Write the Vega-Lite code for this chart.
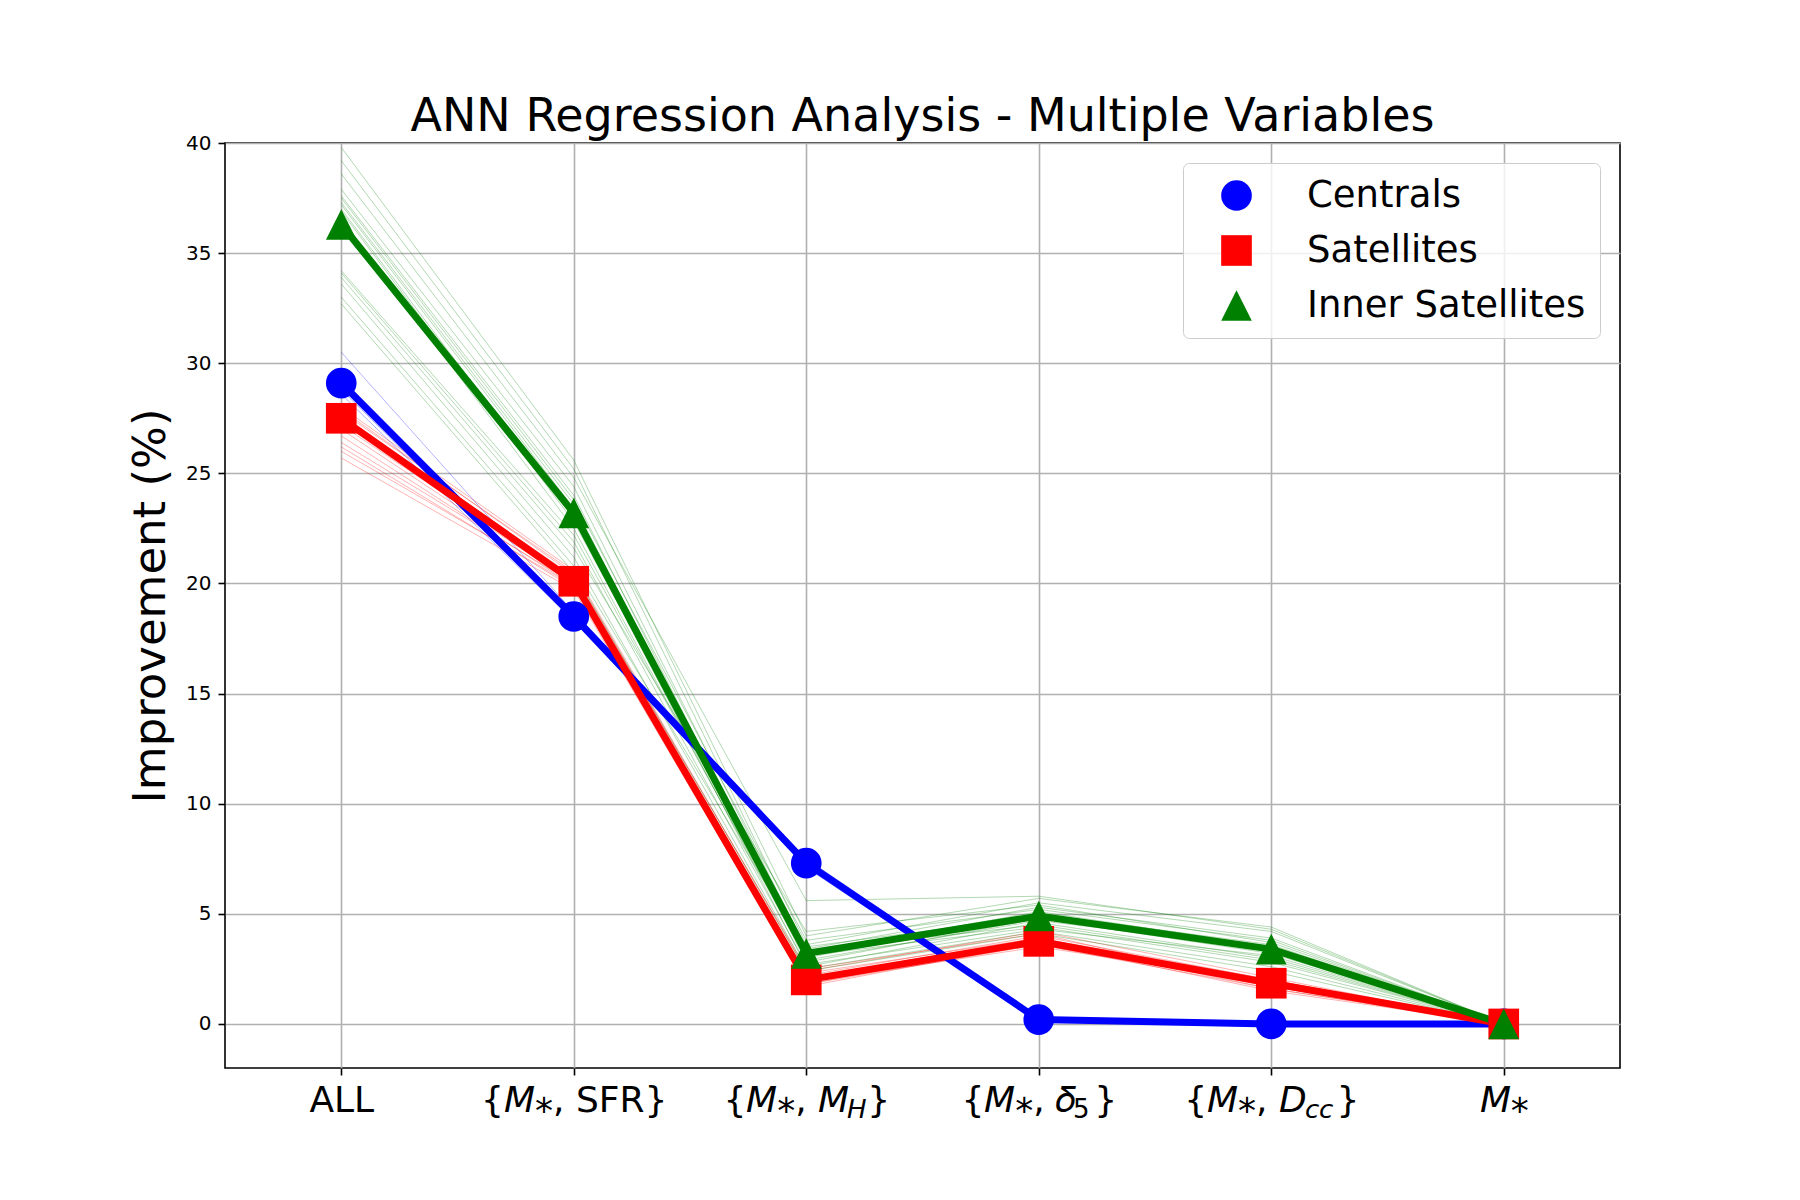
{
  "$schema": "https://vega.github.io/schema/vega-lite/v6.json",
  "autosize": {"type": "none"},
  "padding": {"left": 225, "top": 143, "right": 180, "bottom": 132},
  "width": 1395,
  "height": 925,
  "background": "white",
  "title": {
    "text": "ANN Regression Analysis - Multiple Variables",
    "font": "DejaVu Sans",
    "fontSize": 46,
    "fontWeight": "normal",
    "color": "black",
    "anchor": "middle",
    "frame": "group",
    "baseline": "alphabetic",
    "offset": -44
  },
  "datasets": {
    "runs": [
      {"group": "Centrals", "run": "c1", "ALL": 30.5, "M_SFR": 18.7, "M_MH": 7.5, "M_d5": 0.3, "M_Dcc": 0.05, "M": 0},
      {"group": "Centrals", "run": "c2", "ALL": 29.3, "M_SFR": 18.6, "M_MH": 7.4, "M_d5": 0.25, "M_Dcc": 0.0, "M": 0},
      {"group": "Centrals", "run": "c3", "ALL": 29.0, "M_SFR": 18.5, "M_MH": 7.3, "M_d5": 0.2, "M_Dcc": 0.0, "M": 0},
      {"group": "Centrals", "run": "c4", "ALL": 28.8, "M_SFR": 18.4, "M_MH": 7.2, "M_d5": 0.15, "M_Dcc": 0.0, "M": 0},
      {"group": "Centrals", "run": "c5", "ALL": 28.6, "M_SFR": 18.3, "M_MH": 7.1, "M_d5": 0.1, "M_Dcc": 0.0, "M": 0},
      {"group": "Centrals", "run": "c6", "ALL": 29.1, "M_SFR": 18.5, "M_MH": 7.3, "M_d5": 0.2, "M_Dcc": 0.0, "M": 0},
      {"group": "Satellites", "run": "s1", "ALL": 28.0, "M_SFR": 20.6, "M_MH": 2.4, "M_d5": 4.2, "M_Dcc": 2.1, "M": 0},
      {"group": "Satellites", "run": "s2", "ALL": 27.8, "M_SFR": 20.5, "M_MH": 2.2, "M_d5": 4.0, "M_Dcc": 2.0, "M": 0},
      {"group": "Satellites", "run": "s3", "ALL": 27.6, "M_SFR": 20.3, "M_MH": 2.1, "M_d5": 3.9, "M_Dcc": 1.9, "M": 0},
      {"group": "Satellites", "run": "s4", "ALL": 27.4, "M_SFR": 20.2, "M_MH": 2.0, "M_d5": 3.8, "M_Dcc": 1.8, "M": 0},
      {"group": "Satellites", "run": "s5", "ALL": 27.2, "M_SFR": 20.1, "M_MH": 1.9, "M_d5": 3.7, "M_Dcc": 1.7, "M": 0},
      {"group": "Satellites", "run": "s6", "ALL": 27.0, "M_SFR": 20.0, "M_MH": 1.8, "M_d5": 3.6, "M_Dcc": 1.6, "M": 0},
      {"group": "Satellites", "run": "s7", "ALL": 26.7, "M_SFR": 19.9, "M_MH": 1.7, "M_d5": 3.7, "M_Dcc": 1.5, "M": 0},
      {"group": "Satellites", "run": "s8", "ALL": 26.4, "M_SFR": 20.0, "M_MH": 2.3, "M_d5": 3.9, "M_Dcc": 2.0, "M": 0},
      {"group": "Satellites", "run": "s9", "ALL": 26.2, "M_SFR": 19.8, "M_MH": 2.0, "M_d5": 3.6, "M_Dcc": 1.8, "M": 0},
      {"group": "Satellites", "run": "s10", "ALL": 26.0, "M_SFR": 19.9, "M_MH": 1.9, "M_d5": 3.5, "M_Dcc": 1.9, "M": 0},
      {"group": "Satellites", "run": "s11", "ALL": 25.7, "M_SFR": 19.7, "M_MH": 1.8, "M_d5": 3.8, "M_Dcc": 1.6, "M": 0},
      {"group": "Satellites", "run": "s12", "ALL": 27.9, "M_SFR": 20.4, "M_MH": 2.5, "M_d5": 4.1, "M_Dcc": 1.7, "M": 0},
      {"group": "Inner Satellites", "run": "i1", "ALL": 39.8, "M_SFR": 25.6, "M_MH": 4.0, "M_d5": 5.7, "M_Dcc": 4.4, "M": 0},
      {"group": "Inner Satellites", "run": "i2", "ALL": 39.2, "M_SFR": 25.2, "M_MH": 3.6, "M_d5": 5.5, "M_Dcc": 4.2, "M": 0},
      {"group": "Inner Satellites", "run": "i3", "ALL": 38.6, "M_SFR": 24.8, "M_MH": 5.6, "M_d5": 5.8, "M_Dcc": 4.3, "M": 0},
      {"group": "Inner Satellites", "run": "i4", "ALL": 37.9, "M_SFR": 24.4, "M_MH": 3.4, "M_d5": 5.3, "M_Dcc": 3.9, "M": 0},
      {"group": "Inner Satellites", "run": "i5", "ALL": 37.6, "M_SFR": 24.0, "M_MH": 3.0, "M_d5": 5.0, "M_Dcc": 3.6, "M": 0},
      {"group": "Inner Satellites", "run": "i6", "ALL": 37.5, "M_SFR": 23.8, "M_MH": 3.8, "M_d5": 5.2, "M_Dcc": 3.8, "M": 0},
      {"group": "Inner Satellites", "run": "i7", "ALL": 37.3, "M_SFR": 23.6, "M_MH": 2.8, "M_d5": 4.8, "M_Dcc": 3.2, "M": 0},
      {"group": "Inner Satellites", "run": "i8", "ALL": 37.2, "M_SFR": 23.4, "M_MH": 3.2, "M_d5": 5.1, "M_Dcc": 3.5, "M": 0},
      {"group": "Inner Satellites", "run": "i9", "ALL": 37.0, "M_SFR": 23.0, "M_MH": 2.6, "M_d5": 4.6, "M_Dcc": 3.0, "M": 0},
      {"group": "Inner Satellites", "run": "i10", "ALL": 36.9, "M_SFR": 22.8, "M_MH": 3.5, "M_d5": 4.9, "M_Dcc": 3.3, "M": 0},
      {"group": "Inner Satellites", "run": "i11", "ALL": 36.5, "M_SFR": 22.5, "M_MH": 2.9, "M_d5": 4.7, "M_Dcc": 3.4, "M": 0},
      {"group": "Inner Satellites", "run": "i12", "ALL": 34.2, "M_SFR": 22.2, "M_MH": 3.1, "M_d5": 4.4, "M_Dcc": 2.8, "M": 0},
      {"group": "Inner Satellites", "run": "i13", "ALL": 34.1, "M_SFR": 21.9, "M_MH": 2.7, "M_d5": 4.3, "M_Dcc": 3.1, "M": 0},
      {"group": "Inner Satellites", "run": "i14", "ALL": 33.9, "M_SFR": 21.6, "M_MH": 4.2, "M_d5": 5.4, "M_Dcc": 3.7, "M": 0},
      {"group": "Inner Satellites", "run": "i15", "ALL": 33.6, "M_SFR": 21.2, "M_MH": 2.5, "M_d5": 4.2, "M_Dcc": 2.6, "M": 0},
      {"group": "Inner Satellites", "run": "i16", "ALL": 33.0, "M_SFR": 20.8, "M_MH": 3.3, "M_d5": 4.5, "M_Dcc": 2.9, "M": 0},
      {"group": "Inner Satellites", "run": "i17", "ALL": 32.7, "M_SFR": 20.5, "M_MH": 2.4, "M_d5": 4.1, "M_Dcc": 2.4, "M": 0}
    ],
    "mean": [
      {"group": "Centrals", "ALL": 29.1, "M_SFR": 18.5, "M_MH": 7.3, "M_d5": 0.2, "M_Dcc": 0.0, "M": 0},
      {"group": "Satellites", "ALL": 27.5, "M_SFR": 20.1, "M_MH": 2.0, "M_d5": 3.75, "M_Dcc": 1.85, "M": 0},
      {"group": "Inner Satellites", "ALL": 36.3, "M_SFR": 23.2, "M_MH": 3.2, "M_d5": 4.9, "M_Dcc": 3.4, "M": 0}
    ]
  },
  "encoding": {
    "y": {
      "field": "value",
      "type": "quantitative",
      "scale": {"domain": [-2, 40], "nice": false, "zero": false},
      "axis": {
        "values": [0, 5, 10, 15, 20, 25, 30, 35, 40],
        "title": "Improvement (%)",
        "titleFont": "DejaVu Sans",
        "titleFontSize": 45,
        "titleFontWeight": "normal",
        "titleColor": "black",
        "titlePadding": 12,
        "labelFontSize": 20,
        "labelPadding": 7
      }
    }
  },
  "layer": [
    {
      "data": {"name": "runs"},
      "transform": [{"fold": ["ALL", "M_SFR", "M_MH", "M_d5", "M_Dcc", "M"], "as": ["var", "value"]}],
      "mark": {"type": "line", "strokeWidth": 1, "opacity": 0.3},
      "encoding": {
        "x": {
          "field": "var",
          "type": "nominal",
          "scale": {"type": "point", "padding": 0.5, "domain": ["ALL", "M_SFR", "M_MH", "M_d5", "M_Dcc", "M"]},
          "axis": {
            "orient": "bottom",
            "title": null,
            "labelAngle": 0,
            "labelFontSize": 36,
            "labelLimit": 400,
            "labelBaseline": "alphabetic",
            "labelPadding": 36,
            "labelExpr": "['ALL', '{𝘔⁎, SFR}', '{𝘔⁎, 𝘔\u2002}', '{𝘔⁎, 𝛿\u2002}', '{𝘔⁎, 𝘋\u2002\u00a0}', '𝘔⁎'][indexof(['ALL', 'M_SFR', 'M_MH', 'M_d5', 'M_Dcc', 'M'], datum.value)]"
          }
        },
        "y": {"field": "value", "type": "quantitative"},
        "stroke": {
          "field": "group",
          "type": "nominal",
          "scale": {"domain": ["Centrals", "Inner Satellites", "Satellites"], "range": ["#0000ff", "#008000", "#ff0000"]},
          "legend": null
        },
        "detail": {"field": "run"}
      }
    },
    {
      "data": {"name": "mean"},
      "transform": [{"fold": ["ALL", "M_SFR", "M_MH", "M_d5", "M_Dcc", "M"], "as": ["var", "value"]}],
      "mark": {"type": "line", "strokeWidth": 7},
      "encoding": {
        "x": {
          "field": "var",
          "type": "nominal",
          "scale": {"type": "point", "padding": 0.5, "domain": ["ALL", "M_SFR", "M_MH", "M_d5", "M_Dcc", "M"]},
          "axis": {
            "orient": "bottom",
            "title": null,
            "grid": false,
            "ticks": false,
            "domain": false,
            "labelAngle": 0,
            "labelFontSize": 26,
            "labelBaseline": "alphabetic",
            "labelPadding": 49,
            "labelOffset": {
              "condition": [
                {"test": "datum.value === 'M_MH'", "value": 50},
                {"test": "datum.value === 'M_d5'", "value": 42},
                {"test": "datum.value === 'M_Dcc'", "value": 47}
              ],
              "value": 0
            },
            "labelExpr": "['', '', '𝘏', '5', '𝘤𝘤', ''][indexof(['ALL', 'M_SFR', 'M_MH', 'M_d5', 'M_Dcc', 'M'], datum.value)]"
          }
        },
        "y": {"field": "value", "type": "quantitative"},
        "stroke": {
          "field": "group",
          "type": "nominal",
          "scale": {"domain": ["Centrals", "Inner Satellites", "Satellites"], "range": ["#0000ff", "#008000", "#ff0000"]},
          "legend": null
        }
      }
    },
    {
      "data": {"name": "mean"},
      "transform": [{"fold": ["ALL", "M_SFR", "M_MH", "M_d5", "M_Dcc", "M"], "as": ["var", "value"]}],
      "mark": {"type": "point", "filled": true, "opacity": 1, "size": 940, "strokeWidth": 0},
      "encoding": {
        "x": {
          "field": "var",
          "type": "nominal",
          "scale": {"type": "point", "padding": 0.5, "domain": ["ALL", "M_SFR", "M_MH", "M_d5", "M_Dcc", "M"]},
          "axis": null
        },
        "y": {"field": "value", "type": "quantitative"},
        "color": {
          "field": "group",
          "type": "nominal",
          "scale": {"domain": ["Centrals", "Satellites", "Inner Satellites"], "range": ["#0000ff", "#ff0000", "#008000"]},
          "legend": {"title": null}
        },
        "shape": {
          "field": "group",
          "type": "nominal",
          "scale": {"domain": ["Centrals", "Satellites", "Inner Satellites"], "range": ["circle", "square", "M0,-1L1,1L-1,1Z"]},
          "legend": {"title": null}
        }
      }
    }
  ],
  "resolve": {"axis": {"x": "independent"}},
  "config": {
    "font": "DejaVu Sans",
    "view": {"stroke": "black", "strokeWidth": 1.6},
    "axis": {
      "domain": false,
      "grid": true,
      "gridColor": "#b0b0b0",
      "gridWidth": 1.6,
      "gridOpacity": 1,
      "tickColor": "black",
      "tickWidth": 1.6,
      "tickSize": 7,
      "labelColor": "black",
      "labelFont": "DejaVu Sans"
    },
    "legend": {
      "orient": "top-right",
      "offset": 20,
      "labelFont": "DejaVu Sans",
      "labelFontSize": 37,
      "labelColor": "black",
      "labelLimit": 500,
      "symbolSize": 940,
      "symbolStrokeWidth": 0,
      "strokeColor": "#cccccc",
      "fillColor": "rgba(255,255,255,0.8)",
      "cornerRadius": 6,
      "padding": 14,
      "rowPadding": 17,
      "symbolOffset": 21,
      "labelOffset": 52
    }
  }
}
